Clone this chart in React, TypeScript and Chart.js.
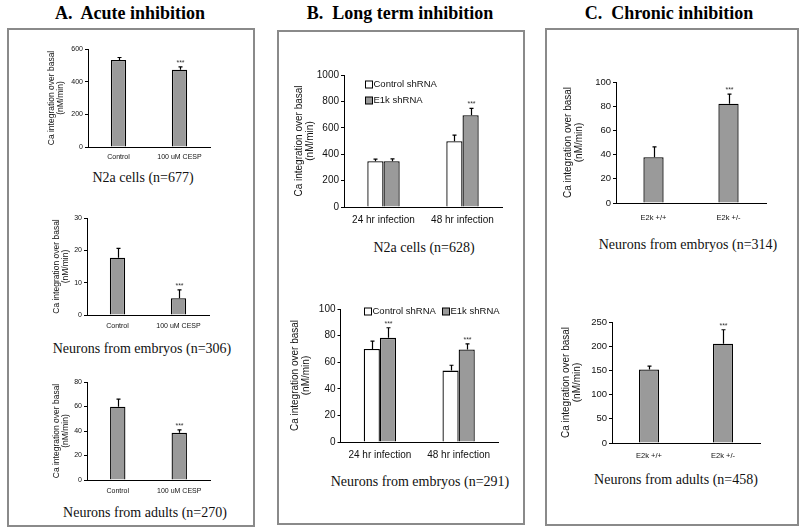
import React, { useEffect, useRef } from 'react';
import { Chart, registerables } from 'chart.js';
Chart.register(...registerables);

// ---------- Data ----------
// Panel A: acute inhibition
const A_CATEGORIES = ['Control', '100 uM CESP'];
const A1_VALUES = [533, 473];
const A1_ERRORS = [15, 17];
const A2_VALUES = [17.7, 5.2];
const A2_ERRORS = [2.9, 2.6];
const A3_VALUES = [59.8, 38.5];
const A3_ERRORS = [6.2, 2.5];
const A_SIG = [false, true];

// Panel B: long term inhibition
const B_CATEGORIES = ['24 hr infection', '48 hr infection'];
const B_SERIES = ['Control shRNA', 'E1k shRNA'];
const B1_CONTROL = [347, 499];
const B1_CONTROL_ERR = [15, 45];
const B1_E1K = [347, 696];
const B1_E1K_ERR = [18, 51];
const B1_SIG_CONTROL = [false, false];
const B1_SIG_E1K = [false, true];
const B2_CONTROL = [70, 53.7];
const B2_CONTROL_ERR = [5.8, 4];
const B2_E1K = [78.3, 69.5];
const B2_E1K_ERR = [7.6, 4.3];
const B2_SIG_CONTROL = [false, false];
const B2_SIG_E1K = [true, true];

// Panel C: chronic inhibition
const C_CATEGORIES = ['E2k +/+', 'E2k +/-'];
const C1_VALUES = [37.8, 82];
const C1_ERRORS = [8.6, 8];
const C2_VALUES = [152, 205];
const C2_ERRORS = [7, 29];
const C_SIG = [false, true];

const Y_TITLE = ['Ca integration over basal', '(nM/min)'];
const GRAY = '#9a9a9a';
const SANS = '"Liberation Sans", Arial, sans-serif';
const SERIF = '"Liberation Serif", "Times New Roman", serif';

type Series = { label: string; values: number[]; errors: number[]; sig: boolean[]; color: string };
type Spec = {
  categories: string[];
  series: Series[];
  yMax: number;
  yStep: number;
  plot: [number, number, number, number];
  yW: number;
  tickFont: number;
  catFont: number;
  titleFont: number;
  titleLH: number;
  catPad: number;
  catPct: number;
  legend?: { items: [number, number][]; font: number };
};

const PAD_T = 12;
const PAD_R = 14;
const XH = 24;

const errorBarsPlugin = {
  id: 'errorBars',
  afterDatasetsDraw(chart: any, _args: any, opts: any) {
    const ctx = chart.ctx;
    const yScale = chart.scales.y;
    ctx.save();
    chart.data.datasets.forEach((ds: any, i: number) => {
      const meta = chart.getDatasetMeta(i);
      const errs = opts.errors[i];
      const sig = opts.sig[i];
      meta.data.forEach((el: any, j: number) => {
        const v = ds.data[j];
        const yTop = yScale.getPixelForValue(v + errs[j]);
        const x = Math.round(el.x) + 0.5;
        ctx.strokeStyle = '#000';
        ctx.lineWidth = 1.2;
        ctx.beginPath();
        ctx.moveTo(x, el.y);
        ctx.lineTo(x, yTop);
        ctx.moveTo(x - 2, yTop);
        ctx.lineTo(x + 2, yTop);
        ctx.stroke();
        if (sig[j]) {
          ctx.fillStyle = '#333';
          ctx.font = `7px ${SANS}`;
          ctx.textAlign = 'center';
          ctx.textBaseline = 'alphabetic';
          ctx.fillText('***', x, yTop - 2);
        }
      });
    });
    ctx.restore();
  },
};

const boxLegendPlugin = {
  id: 'boxLegend',
  afterDraw(chart: any, _args: any, opts: any) {
    if (!opts || !opts.items) return;
    const ctx = chart.ctx;
    const area = chart.chartArea;
    ctx.save();
    ctx.font = `${opts.font}px ${SANS}`;
    ctx.textBaseline = 'middle';
    ctx.textAlign = 'left';
    chart.data.datasets.forEach((ds: any, i: number) => {
      const [dx, dy] = opts.items[i];
      const x = Math.round(area.left + dx) + 0.5;
      const y = Math.round(area.top + dy) + 0.5;
      ctx.fillStyle = ds.backgroundColor;
      ctx.fillRect(x, y - 3.5, 7, 7);
      ctx.strokeStyle = '#000';
      ctx.lineWidth = 1;
      ctx.strokeRect(x, y - 3.5, 7, 7);
      ctx.fillStyle = '#111';
      ctx.fillText(ds.label, x + 8, y);
    });
    ctx.restore();
  },
};

function BarPanel({ spec }: { spec: Spec }) {
  const ref = useRef<HTMLCanvasElement | null>(null);
  const [L, T, R, B] = spec.plot;
  const width = R - L + spec.yW + PAD_R;
  const height = B - T + PAD_T + XH;
  useEffect(() => {
    if (!ref.current) return;
    const chart = new Chart(ref.current, {
      type: 'bar',
      data: {
        labels: spec.categories,
        datasets: spec.series.map((s) => ({
          label: s.label,
          data: s.values,
          backgroundColor: s.color,
          borderColor: '#000',
          borderWidth: 1.3,
          categoryPercentage: spec.catPct,
          barPercentage: 1,
        })),
      },
      options: {
        responsive: false,
        animation: false,
        devicePixelRatio: 1,
        layout: { padding: { top: PAD_T, right: PAD_R, left: 0, bottom: 0 } },
        plugins: {
          legend: { display: false },
          tooltip: { enabled: false },
          errorBars: {
            errors: spec.series.map((s) => s.errors),
            sig: spec.series.map((s) => s.sig),
          },
          boxLegend: spec.legend ? { items: spec.legend.items, font: spec.legend.font } : {},
        } as any,
        scales: {
          x: {
            grid: { display: false, drawTicks: false },
            border: { display: true, color: '#000', width: 1 },
            ticks: {
              font: { family: SANS, size: spec.catFont },
              color: '#111',
              padding: spec.catPad,
              maxRotation: 0,
              autoSkip: false,
            },
            afterFit: (s: any) => {
              s.height = XH;
            },
          },
          y: {
            min: 0,
            max: spec.yMax,
            ticks: {
              stepSize: spec.yStep,
              font: { family: SANS, size: spec.tickFont },
              color: '#111',
              padding: 2,
              callback: (v: any) => String(v),
            },
            grid: { drawOnChartArea: false, drawTicks: true, tickLength: 3, color: '#000' },
            border: { display: true, color: '#000', width: 1 },
            title: {
              display: true,
              text: Y_TITLE,
              color: '#111',
              font: { family: SANS, size: spec.titleFont, lineHeight: spec.titleLH },
              padding: 0,
            },
            afterFit: (s: any) => {
              s.width = spec.yW;
            },
          },
        },
      } as any,
      plugins: [errorBarsPlugin, boxLegendPlugin],
    });
    return () => chart.destroy();
  }, []);
  return (
    <canvas
      ref={ref}
      width={width}
      height={height}
      style={{ position: 'absolute', left: L - spec.yW, top: T - PAD_T, width, height }}
    />
  );
}

const single = (vals: number[], errs: number[], sig: boolean[]): Series[] => [
  { label: 'value', values: vals, errors: errs, sig, color: GRAY },
];

const SPECS: Spec[] = [
  {
    categories: A_CATEGORIES, series: single(A1_VALUES, A1_ERRORS, A_SIG),
    yMax: 600, yStep: 200, plot: [88, 49, 210, 147], yW: 41,
    tickFont: 7, catFont: 7, titleFont: 8.5, titleLH: 1.05, catPad: 6, catPct: 0.25,
  },
  {
    categories: A_CATEGORIES, series: single(A2_VALUES, A2_ERRORS, A_SIG),
    yMax: 30, yStep: 10, plot: [87, 218, 209, 315], yW: 35,
    tickFont: 7, catFont: 7, titleFont: 8.5, titleLH: 1.05, catPad: 7, catPct: 0.25,
  },
  {
    categories: A_CATEGORIES, series: single(A3_VALUES, A3_ERRORS, A_SIG),
    yMax: 80, yStep: 20, plot: [87, 382, 210, 480], yW: 35,
    tickFont: 7, catFont: 7, titleFont: 8.5, titleLH: 1.05, catPad: 7, catPct: 0.25,
  },
  {
    categories: B_CATEGORIES,
    series: [
      { label: B_SERIES[0], values: B1_CONTROL, errors: B1_CONTROL_ERR, sig: B1_SIG_CONTROL, color: '#ffffff' },
      { label: B_SERIES[1], values: B1_E1K, errors: B1_E1K_ERR, sig: B1_SIG_E1K, color: GRAY },
    ],
    yMax: 1000, yStep: 200, plot: [344, 75, 502, 207], yW: 50,
    tickFont: 10, catFont: 10, titleFont: 10, titleLH: 1.05, catPad: 7, catPct: 0.41,
    legend: { items: [[21, 9], [21, 25]], font: 9.5 },
  },
  {
    categories: B_CATEGORIES,
    series: [
      { label: B_SERIES[0], values: B2_CONTROL, errors: B2_CONTROL_ERR, sig: B2_SIG_CONTROL, color: '#ffffff' },
      { label: B_SERIES[1], values: B2_E1K, errors: B2_E1K_ERR, sig: B2_SIG_E1K, color: GRAY },
    ],
    yMax: 100, yStep: 20, plot: [340, 309, 498, 442], yW: 50.5,
    tickFont: 10, catFont: 10, titleFont: 10, titleLH: 1.05, catPad: 7, catPct: 0.41,
    legend: { items: [[23, 2], [101, 2]], font: 9.5 },
  },
  {
    categories: C_CATEGORIES, series: single(C1_VALUES, C1_ERRORS, C_SIG),
    yMax: 100, yStep: 20, plot: [616, 82, 766, 203], yW: 53,
    tickFont: 9.5, catFont: 7.5, titleFont: 10, titleLH: 1.05, catPad: 10, catPct: 0.27,
  },
  {
    categories: C_CATEGORIES, series: single(C2_VALUES, C2_ERRORS, C_SIG),
    yMax: 250, yStep: 50, plot: [612, 322, 760, 443], yW: 51,
    tickFont: 9.5, catFont: 7.5, titleFont: 10, titleLH: 1.05, catPad: 8, catPct: 0.27,
  },
];

const TITLES: [string, number, number][] = [
  ['A.\u00a0 Acute inhibition', 130, 13],
  ['B.\u00a0 Long term inhibition', 400, 13],
  ['C.\u00a0 Chronic inhibition', 669, 13],
];

const CAPTIONS: [string, number, number][] = [
  ['N2a cells (n=677)', 143, 178],
  ['Neurons from embryos (n=306)', 142, 349],
  ['Neurons from adults (n=270)', 145, 513],
  ['N2a cells (n=628)', 424, 248],
  ['Neurons from embryos (n=291)', 420, 482],
  ['Neurons from embryos (n=314)', 688, 245],
  ['Neurons from adults (n=458)', 676, 480],
];

const BOXES: [number, number, number, number][] = [
  [7, 28, 255, 527],
  [277, 30, 525, 525],
  [545, 28, 799, 526],
];

export default function App() {
  return (
    <div style={{ position: 'absolute', left: 0, top: 0, width: 800, height: 529, background: '#fff', overflow: 'hidden' }}>
      {BOXES.map(([l, t, r, b], i) => (
        <div
          key={'b' + i}
          style={{
            position: 'absolute', left: l, top: t, width: r - l, height: b - t,
            border: '2px solid #8a8a8a', boxSizing: 'border-box',
          }}
        />
      ))}
      {TITLES.map(([txt, x, y], i) => (
        <div
          key={'t' + i}
          style={{
            position: 'absolute', left: x, top: y, transform: 'translate(-50%, -50%)',
            fontFamily: SERIF, fontWeight: 'bold', fontSize: 18, lineHeight: 1, whiteSpace: 'nowrap', color: '#000',
          }}
        >
          {txt}
        </div>
      ))}
      {CAPTIONS.map(([txt, x, y], i) => (
        <div
          key={'c' + i}
          style={{
            position: 'absolute', left: x, top: y, transform: 'translate(-50%, -50%)',
            fontFamily: SERIF, fontSize: 14, lineHeight: 1, whiteSpace: 'nowrap', color: '#111',
          }}
        >
          {txt}
        </div>
      ))}
      {SPECS.map((s, i) => (
        <BarPanel key={'p' + i} spec={s} />
      ))}
    </div>
  );
}
